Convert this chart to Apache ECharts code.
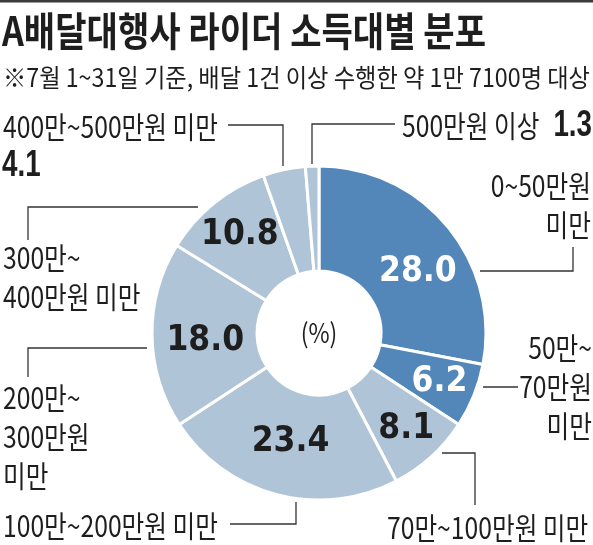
<!DOCTYPE html>
<html>
<head>
    <meta charset="utf-8">
    <title>A배달대행사 라이더 소득대별 분포</title>
    <script src="https://cdn.jsdelivr.net/npm/echarts@6/dist/echarts.min.js"></script>
    <style>
        html, body { margin: 0; padding: 0; background: #fff; }
        #main { width: 593px; height: 545px; }
    </style>
</head>
<body>
<div id="main"></div>
<script type="text/javascript">
    // 데이터
    var categories = ['0~50만원 미만', '50만~70만원 미만', '70만~100만원 미만', '100만~200만원 미만',
        '200만~300만원 미만', '300만~400만원 미만', '400만~500만원 미만', '500만원 이상'];
    var shares = [28.0, 6.2, 8.1, 23.4, 18.0, 10.8, 4.1, 1.3];
    var titleText = 'A배달대행사 라이더 소득대별 분포';
    var subText = '※7월 1~31일 기준, 배달 1건 이상 수행한 약 1만 7100명 대상';

    var DARK = '#5387ba', LIGHT = '#b0c4d7', INK = '#1e1e1e';
    var CJK = '"Noto Sans CJK KR", sans-serif';

    // 글자 폭 측정 (좁은 글꼴 흉내용)
    var ctx = document.createElement('canvas').getContext('2d');
    function widthOf(text, font) {
        ctx.font = font;
        return ctx.measureText(text).width;
    }

    var titleFont = 'bold 40px ' + CJK;
    var subFont = '25px ' + CJK;
    var callFont = '30px ' + CJK;
    var boldNumFont = 'bold 37px "Liberation Sans", sans-serif';
    var titleScale = 484 / widthOf(titleText, titleFont);
    var subScale = 587 / widthOf(subText, subFont);
    var callScale = 215 / widthOf('400만~500만원 미만', callFont);

    function txt(text, x, y, font, align, sx, fill) {
        return {
            type: 'text', x: x, y: y, scaleX: sx, scaleY: 1,
            style: {
                text: text, x: 0, y: 0, font: font, fill: fill || INK,
                textAlign: align, align: align,
                textVerticalAlign: 'middle', verticalAlign: 'middle'
            }
        };
    }
    function lines(list, x, y, align) {
        return list.map(function (s, i) {
            return txt(s, x, y + i * 39, callFont, align, callScale);
        });
    }
    function leader(points) {
        return {
            type: 'polyline', shape: { points: points },
            style: { stroke: '#333', lineWidth: 1.3, fill: null }
        };
    }

    var graphics = [
        { type: 'rect', shape: { x: 0, y: 0, width: 593, height: 2.5 }, style: { fill: '#3a3a3a' } },
        txt(titleText, 2, 31, titleFont, 'left', titleScale),
        txt(subText, 3, 77, subFont, 'left', subScale),
        txt('(%)', 319, 333, '27px ' + CJK, 'center', 0.85)
    ];
    graphics = graphics
        .concat(lines(['400만~500만원 미만'], 3, 127, 'left'))
        .concat([txt(shares[6].toFixed(1), 2, 166, boldNumFont, 'left', 0.75)])
        .concat(lines(['500만원 이상'], 402, 126, 'left'))
        .concat([txt(shares[7].toFixed(1), 592, 126, boldNumFont, 'right', 0.75)])
        .concat(lines(['0~50만원', '미만'], 591, 186, 'right'))
        .concat(lines(['50만~', '70만원', '미만'], 592, 348, 'right'))
        .concat(lines(['70만~100만원 미만'], 387, 528, 'left'))
        .concat(lines(['100만~200만원 미만'], 3, 526, 'left'))
        .concat(lines(['200만~', '300만원', '미만'], 3, 398, 'left'))
        .concat(lines(['300만~', '400만원 미만'], 3, 258, 'left'))
        .concat([
            leader([[228, 125], [283, 125], [283, 166]]),
            leader([[395, 124], [312, 124], [312, 164]]),
            leader([[573, 247], [573, 271], [480, 271]]),
            leader([[483, 387], [518, 387]]),
            leader([[442, 453], [475, 453], [475, 505]]),
            leader([[230, 524], [296, 524], [296, 502]]),
            leader([[147, 348], [28, 348], [28, 377]]),
            leader([[198, 207], [28, 207], [28, 240]])
        ]);

    // 조각 안 숫자 위치 보정 (반지름, 각도)
    var CX = 319, CY = 333;
    var labelR = [116, 130, 130, 113, 114, 126, 0, 0];
    var labelShift = [8, 0, 0, 0, -3, 0, 0, 0];
    var total = shares.reduce(function (a, b) { return a + b; }, 0);

    var myChart = echarts.init(document.getElementById('main'), null, { renderer: 'canvas' });

    var option = {
        animation: false,
        backgroundColor: '#fff',
        graphic: { elements: graphics },
        series: [{
            type: 'pie',
            center: [CX, CY],
            radius: [62, 167],
            startAngle: 90,
            clockwise: true,
            silent: true,
            itemStyle: { borderColor: '#fff', borderWidth: 3 },
            labelLine: { show: false },
            label: {
                position: 'inside',
                fontFamily: '"DejaVu Sans", sans-serif',
                fontStyle: 'condensed',
                fontWeight: 'bold',
                fontSize: 35,
                formatter: function (p) { return p.dataIndex < 6 ? p.value.toFixed(1) : ''; }
            },
            labelLayout: function (p) {
                var i = p.dataIndex, before = 0;
                for (var k = 0; k < i; k++) before += shares[k];
                var a = ((before + shares[i] / 2) / total * 360 + labelShift[i]) * Math.PI / 180;
                return { x: CX + labelR[i] * Math.sin(a), y: CY - labelR[i] * Math.cos(a) };
            },
            data: shares.map(function (v, i) {
                return {
                    name: categories[i], value: v,
                    itemStyle: { color: i < 2 ? DARK : LIGHT },
                    label: { color: i < 2 ? '#fff' : INK }
                };
            })
        }]
    };

    myChart.setOption(option);
</script>
</body>
</html>
